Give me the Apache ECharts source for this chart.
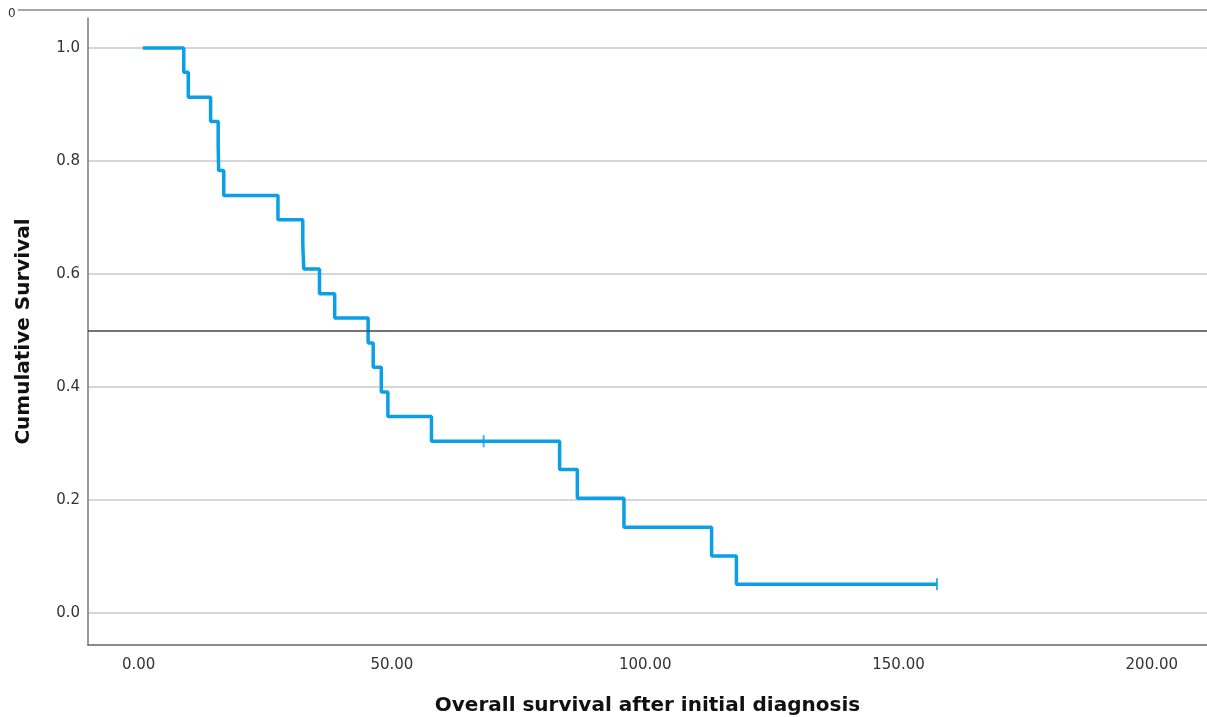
<!DOCTYPE html>
<html>
<head>
<meta charset="utf-8">
<title>Kaplan-Meier</title>
<script src="https://cdn.jsdelivr.net/npm/echarts@6/dist/echarts.min.js"></script>
<style>
    html, body { margin: 0; padding: 0; background: #fff; }
    #chart { width: 1207px; height: 717px; }
</style>
</head>
<body>
<div id="chart"></div>
<script>
var chart = echarts.init(document.getElementById('chart'));

// 生存曲线的数据 (时间, 累积生存率)
var timePoints = [0.8, 8.9, 9.8, 14.2, 15.7, 15.8, 16.8, 27.5, 32.4, 32.6, 35.7, 38.7, 45.3, 46.3, 47.9, 49.2, 57.8, 83.1, 86.6, 95.8, 113.1, 118.0, 157.6];
var survival = [1.0, 0.957, 0.913, 0.870, 0.826, 0.783, 0.739, 0.696, 0.652, 0.609, 0.565, 0.522, 0.478, 0.435, 0.391, 0.348, 0.304, 0.254, 0.203, 0.152, 0.101, 0.051, 0.051];

// 删失点
var censorTimes = [68.1, 157.6];
var censorSurvival = [0.304, 0.051];

// 刻度
var xTicks = [0, 50, 100, 150, 200];
var yTicks = [0, 0.2, 0.4, 0.6, 0.8, 1.0];
var medianLine = 0.5;

var curve = timePoints.map(function (t, i) { return [t, survival[i]]; });
var censored = censorTimes.map(function (t, i) { return [t, censorSurvival[i]]; });

var lineColor = '#0a9fe6';
var labelFont = 'DejaVu Sans';

var option = {
    backgroundColor: '#fff',
    animation: false,
    grid: { left: 88, right: 0, top: 18, bottom: 72, outerBoundsMode: 'none', containLabel: false },
    xAxis: {
        type: 'value',
        min: -10,
        max: 210.9,
        name: 'Overall survival after initial diagnosis',
        nameLocation: 'middle',
        nameGap: 51,
        nameTextStyle: { fontFamily: labelFont, fontWeight: 'bold', fontSize: 20, color: '#111' },
        axisLine: { show: true, onZero: false, lineStyle: { color: '#666', width: 1.5 } },
        axisTick: { show: false, customValues: xTicks },
        splitLine: { show: false },
        axisLabel: {
            customValues: xTicks,
            margin: 13,
            fontFamily: labelFont,
            fontSize: 15,
            color: '#333',
            formatter: function (v) { return v.toFixed(2); }
        }
    },
    yAxis: {
        type: 'value',
        min: -0.0566,
        max: 1.0531,
        name: 'Cumulative Survival',
        nameLocation: 'middle',
        nameGap: 54,
        nameTextStyle: { fontFamily: labelFont, fontWeight: 'bold', fontSize: 20, color: '#111' },
        axisLine: { show: true, onZero: false, lineStyle: { color: '#777', width: 1.5 } },
        axisTick: { show: false, customValues: yTicks },
        splitLine: { show: true, lineStyle: { color: '#c8c8c8', width: 1.5 } },
        axisLabel: {
            customValues: yTicks,
            margin: 8,
            fontFamily: labelFont,
            fontSize: 15,
            color: '#333',
            formatter: function (v) { return v.toFixed(1); }
        }
    },
    series: [
        {
            type: 'line',
            data: curve,
            step: 'end',
            showSymbol: false,
            clip: false,
            lineStyle: { color: lineColor, width: 3.5 },
            markLine: {
                silent: true,
                symbol: 'none',
                label: { show: false },
                lineStyle: { color: '#444', width: 1.5, type: 'solid' },
                data: [{ yAxis: medianLine }]
            },
            z: 3
        },
        {
            type: 'scatter',
            data: censored,
            symbol: 'rect',
            symbolSize: [2, 12],
            itemStyle: { color: lineColor },
            z: 4
        }
    ],
    graphic: [
        {
            type: 'line',
            shape: { x1: 18, y1: 10, x2: 1207, y2: 10 },
            style: { stroke: '#888', lineWidth: 1.5 }
        },
        {
            type: 'text',
            left: 8,
            top: 8,
            style: { text: '0', fontFamily: labelFont, fontSize: 12, fill: '#333' }
        }
    ]
};

chart.setOption(option);
</script>
</body>
</html>
